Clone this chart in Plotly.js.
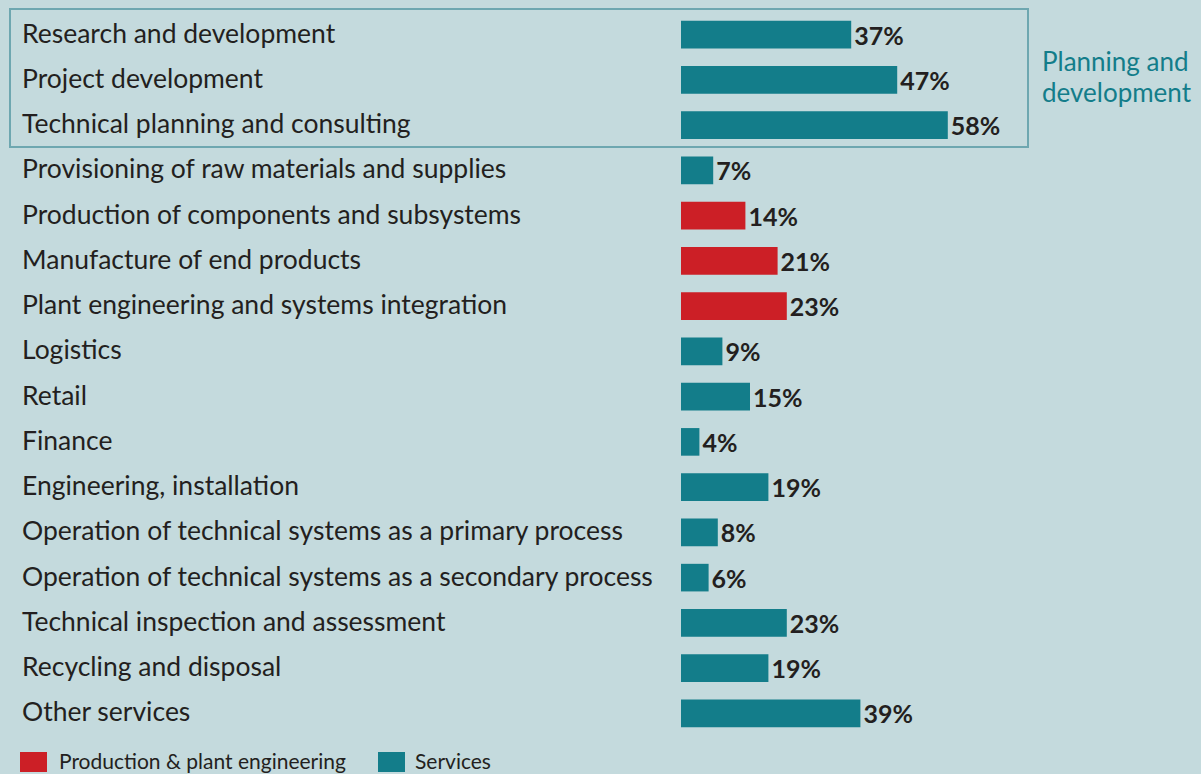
<!DOCTYPE html>
<html>
<head>
<meta charset="utf-8">
<script src="https://cdn.plot.ly/plotly-3.0.1.min.js"></script>
<style>
  html, body { margin: 0; padding: 0; background: #c4dadd; }
  #chart { width: 1201px; height: 774px; }
</style>
</head>
<body>
<div id="chart"></div>
<script>
// categories top to bottom
var categories = [
    'Research and development',
    'Project development',
    'Technical planning and consulting',
    'Provisioning of raw materials and supplies',
    'Production of components and subsystems',
    'Manufacture of end products',
    'Plant engineering and systems integration',
    'Logistics',
    'Retail',
    'Finance',
    'Engineering, installation',
    'Operation of technical systems as a primary process',
    'Operation of technical systems as a secondary process',
    'Technical inspection and assessment',
    'Recycling and disposal',
    'Other services'
];
var shares = [37, 47, 58, 7, 14, 21, 23, 9, 15, 4, 19, 8, 6, 23, 19, 39];
var groups = ['S', 'S', 'S', 'S', 'P', 'P', 'P', 'S', 'S', 'S', 'S', 'S', 'S', 'S', 'S', 'S'];
var legendNames = ['Production & plant engineering', 'Services'];
var boxLabel = ['Planning and', 'development'];

var teal = '#137d8a';
var red = '#cc1f26';
var ink = '#231f20';
var bg = '#c4dadd';
var font = 'Lato, "Open Sans", sans-serif';

// page geometry
var W = 1201, H = 774;
var M = {l: 681, r: 0, t: 12, b: 38};
var pw = W - M.l - M.r, ph = H - M.t - M.b;
function px(x) { return (x - M.l) / pw; }
function py(y) { return 1 - (y - M.t) / ph; }

var colors = groups.map(function (g) { return g === 'P' ? red : teal; });

var data = [{
    type: 'bar',
    orientation: 'h',
    y: categories,
    x: shares,
    width: 0.61,
    marker: {color: colors},
    text: shares.map(function (v) { return v + '%'; }),
    textposition: 'outside',
    constraintext: 'none',
    cliponaxis: false,
    textfont: {family: font, size: 25, color: ink, weight: 'bold'},
    hoverinfo: 'none',
    showlegend: false
}];

var annotations = categories.map(function (c) {
    return {
        xref: 'paper', yref: 'y', x: px(20), y: c, yshift: 2,
        text: c, showarrow: false, xanchor: 'left', yanchor: 'middle',
        font: {family: font, size: 26.5, color: ink}
    };
});
boxLabel.forEach(function (t, i) {
    annotations.push({
        xref: 'paper', yref: 'paper', x: px(1040), y: py(62 + i * 31), yshift: 1,
        text: t, showarrow: false, xanchor: 'left', yanchor: 'middle',
        font: {family: font, size: 26, color: teal}
    });
});
annotations.push({
    xref: 'paper', yref: 'paper', x: px(57), y: py(762), yshift: 2,
    text: legendNames[0], showarrow: false, xanchor: 'left', yanchor: 'middle',
    font: {family: font, size: 21, color: ink}
});
annotations.push({
    xref: 'paper', yref: 'paper', x: px(413), y: py(762), yshift: 2,
    text: legendNames[1], showarrow: false, xanchor: 'left', yanchor: 'middle',
    font: {family: font, size: 21, color: ink}
});

var shapes = [
    {type: 'rect', xref: 'paper', yref: 'paper', x0: px(10), x1: px(1028), y0: py(9), y1: py(147),
     line: {color: '#6ea7b0', width: 2}, fillcolor: 'rgba(0,0,0,0)', layer: 'below'},
    {type: 'rect', xref: 'paper', yref: 'paper', x0: px(20), x1: px(47), y0: py(752), y1: py(772),
     line: {width: 0}, fillcolor: red},
    {type: 'rect', xref: 'paper', yref: 'paper', x0: px(378), x1: px(405), y0: py(752), y1: py(772),
     line: {width: 0}, fillcolor: teal}
];

var layout = {
    width: W, height: H,
    margin: M,
    paper_bgcolor: bg, plot_bgcolor: bg,
    font: {family: font, color: ink},
    xaxis: {range: [0, pw / 4.6], visible: false, fixedrange: true},
    yaxis: {type: 'category', autorange: false, range: [categories.length - 0.5, -0.5],
            showticklabels: false, showgrid: false, zeroline: false, showline: false, ticks: ''},
    annotations: annotations,
    shapes: shapes
};

Plotly.newPlot('chart', data, layout, {displayModeBar: false, staticPlot: true});
</script>
</body>
</html>
